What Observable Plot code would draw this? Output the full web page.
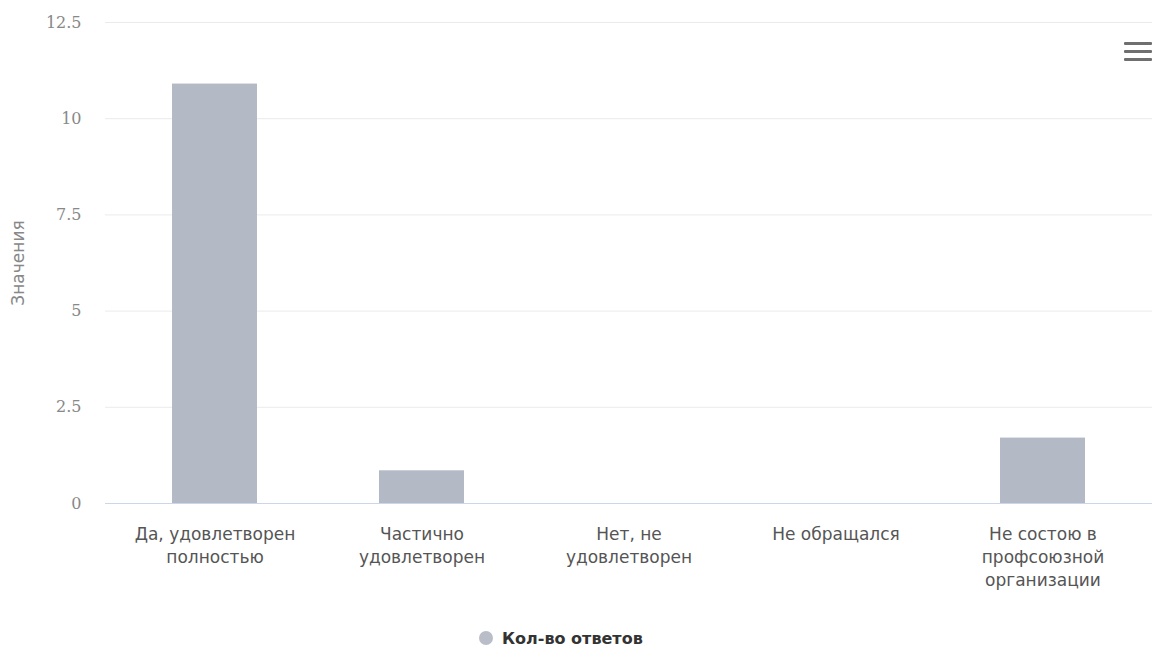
<!DOCTYPE html>
<html><head><meta charset="utf-8">
<script src="https://cdn.jsdelivr.net/npm/d3@7"></script>
<script src="https://cdn.jsdelivr.net/npm/@observablehq/plot@0.6"></script>
<style>
body{margin:0;background:#fff;font-family:"DejaVu Sans",sans-serif;}
#wrap{position:relative;width:1159px;height:654px;}
#legend{position:absolute;left:479px;top:629px;font:bold 16px "DejaVu Sans",sans-serif;color:#333;white-space:nowrap;}
#legend .dot{display:inline-block;width:14px;height:14px;border-radius:50%;background:#b8bdc8;margin-right:9px;vertical-align:-1px;}
#menu{position:absolute;left:1124px;top:42px;width:28px;}
#menu div{height:3px;background:#6f6f6f;margin-bottom:5px;border-radius:1px;}
</style></head>
<body><div id="wrap"><div id="chart"></div>
<div id="legend"><span class="dot"></span>Кол-во ответов</div>
<div id="menu"><div></div><div></div><div></div></div></div>
<script>
const categories = ["Да, удовлетворен\nполностью","Частично\nудовлетворен","Нет, не\nудовлетворен","Не обращался","Не состою в\nпрофсоюзной\nорганизации"];
const values = [10.9, 0.85, 0, 0, 1.7];
const yTicks = [0, 2.5, 5, 7.5, 10, 12.5];
const seriesName = "Кол-во ответов";
const data = categories.map((c, i) => ({category: c, value: values[i]}));

const chart = Plot.plot({
  width: 1159,
  height: 618,
  marginTop: 22,
  marginBottom: 115,
  marginLeft: 105,
  marginRight: 7,
  style: {fontFamily: "DejaVu Sans, sans-serif", fontSize: "13px", color: "#555", background: "#fff"},
  x: {domain: categories, paddingInner: 0.59, paddingOuter: 0.32, align: 0.5, label: null},
  y: {domain: [0, 12.5], ticks: yTicks, label: null},
  marks: [
    Plot.gridY(yTicks, {stroke: "#ebebeb", strokeOpacity: 1}),
    Plot.axisY({ticks: yTicks, tickSize: 0, tickPadding: 24, fontSize: 16, fill: "#888", label: null,
      fontFamily: "DejaVu Serif, serif", tickFormat: d => String(d)}),
    Plot.text(["Значения"], {frameAnchor: "left", dx: -87, dy: 0, rotate: -90, fontSize: 17, fill: "#888", textAnchor: "middle"}),
    Plot.barY(data, {x: "category", y: "value", fill: "#b3b9c5", title: d => `${seriesName}: ${d.value}`}),
    Plot.ruleY([0], {stroke: "#ccd6eb"}),
    Plot.axisX({tickSize: 0, tickPadding: 20, fontSize: 17, fill: "#555", lineHeight: 1.35, label: null})
  ]
});
document.getElementById("chart").appendChild(chart);
</script></body></html>
